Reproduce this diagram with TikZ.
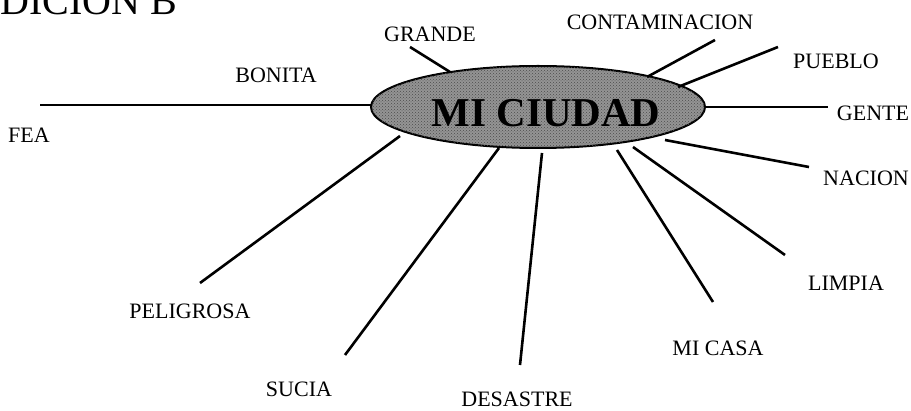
\documentclass[tikz,border=0pt]{standalone}
\usepackage{fontspec}
\setmainfont{Liberation Serif}
\usetikzlibrary{shapes.geometric,patterns}
\begin{document}
\begin{tikzpicture}[x=1pt,y=-1pt,
  lbl/.style={font=\fontsize{22}{26}\selectfont, inner sep=0pt},
  spoke/.style={line width=2.6pt},
  bigtext/.style={font=\bfseries\fontsize{41}{45}\selectfont, inner sep=0pt}]
\useasboundingbox (0,0) rectangle (911,411);
% title (cut at top)
\node[anchor=base west, inner sep=0pt, font=\fontsize{40}{44}\selectfont] (title) at (0,15) {DICION B};
% central ellipse
\node[draw, line width=2pt, fill=black!42, ellipse, minimum width=334pt, minimum height=82pt, inner sep=0pt,
      postaction={pattern=crosshatch dots, pattern color=black!70}] (city) at (538,107) {};
\node[bigtext] (citytext) at (546,113) {MI CIUDAD};
% labels
\node[lbl] (bonita) at (276,75) {BONITA};
\node[lbl] (fea) at (29,135) {FEA};
\node[lbl] (grande) at (430,34) {GRANDE};
\node[lbl] (contam) at (660,22) {CONTAMINACION};
\node[lbl] (pueblo) at (836,61) {PUEBLO};
\node[lbl] (gente) at (873,113) {GENTE};
\node[lbl] (nacion) at (866,178) {NACION};
\node[lbl] (limpia) at (846,283) {LIMPIA};
\node[lbl] (micasa) at (718,348) {MI CASA};
\node[lbl] (desastre) at (517,399) {DESASTRE};
\node[lbl] (sucia) at (299,389) {SUCIA};
\node[lbl] (peligrosa) at (190,311) {PELIGROSA};
% spoke end points
\coordinate (feaE) at (40,105);   \coordinate (feaS) at (372,105);
\coordinate (graE) at (410,47);   \coordinate (graS) at (450,72);
\coordinate (conE) at (715,40);   \coordinate (conS) at (647,77);
\coordinate (pueE) at (778,47);   \coordinate (pueS) at (678,87);
\coordinate (genE) at (828,107);  \coordinate (genS) at (705,107);
\coordinate (nacE) at (809,167);  \coordinate (nacS) at (665,140);
\coordinate (limE) at (785,255);  \coordinate (limS) at (633,147);
\coordinate (mcaE) at (713,302);  \coordinate (mcaS) at (617,150);
\coordinate (desE) at (520,365);  \coordinate (desS) at (542,153);
\coordinate (sucE) at (345,355);  \coordinate (sucS) at (499,148);
\coordinate (pelE) at (200,283);  \coordinate (pelS) at (400,136);
\foreach \s/\e in {feaS/feaE,graS/graE,conS/conE,pueS/pueE,genS/genE,nacS/nacE,limS/limE,mcaS/mcaE,desS/desE,sucS/sucE,pelS/pelE}
  \draw[spoke] (\s) -- (\e);
\end{tikzpicture}
\end{document}
